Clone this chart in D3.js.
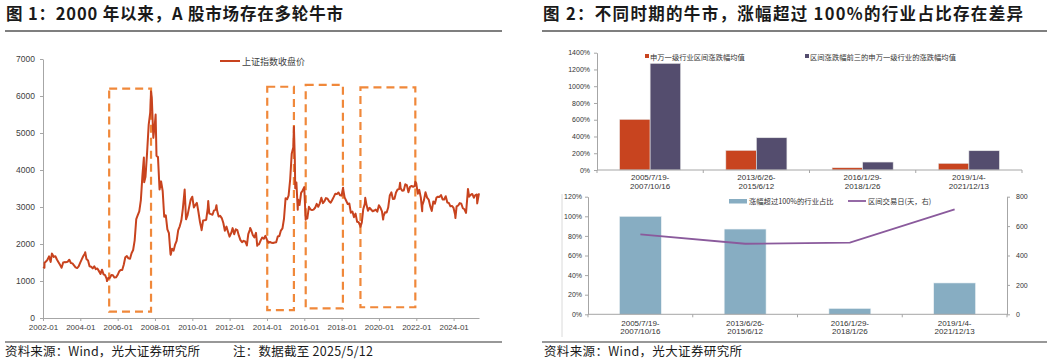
<!DOCTYPE html>
<html>
<head>
<meta charset="utf-8">
<script src="https://cdn.jsdelivr.net/npm/d3@7"></script>
<style>
  body { margin: 0; background: #fff; }
  text { font-family: "Liberation Sans", "Noto Sans CJK SC", sans-serif; }
  .cjk { font-family: "Noto Sans CJK SC", sans-serif; }
</style>
</head>
<body>
<svg id="chart" width="1054" height="364"></svg>
<script>
// ---- data: 图1 上证指数 ----
// monthly closes, 2002-01 .. 2025-04 (one value per month)
const monthStart = new Date(2002, 0, 1);
const monthlyClose = [
  1491, 1524, 1580, 1667, 1515, 1732, 1651, 1670, 1581, 1507, 1436, 1357, // 2002
  1499, 1511, 1510, 1521, 1576, 1487, 1476, 1421, 1367, 1349, 1397, 1497, // 2003
  1590, 1675, 1742, 1595, 1555, 1399, 1386, 1342, 1396, 1320, 1340, 1267, // 2004
  1191, 1306, 1181, 1159, 1060, 1080, 1083, 1162, 1155, 1092, 1099, 1161, // 2005
  1258, 1299, 1298, 1440, 1641, 1672, 1612, 1601, 1752, 1837, 2099, 2675, // 2006
  2786, 2881, 3183, 3841, 4109, 3820, 4471, 5218, 5552, 5955, 4871, 5262, // 2007
  4383, 4348, 3473, 3693, 3433, 2736, 2775, 2397, 2293, 1729, 1871, 1821, // 2008
  1991, 2082, 2373, 2477, 2633, 2959, 3412, 2667, 2779, 2996, 3195, 3277, // 2009
  2989, 3052, 3110, 2871, 2592, 2398, 2638, 2639, 2656, 2979, 2820, 2808, // 2010
  2791, 2905, 2928, 2911, 2743, 2762, 2701, 2568, 2359, 2469, 2333, 2199, // 2011
  2292, 2429, 2263, 2397, 2373, 2225, 2103, 2048, 2086, 2069, 1980, 2269, // 2012
  2385, 2366, 2237, 2178, 2301, 1979, 1994, 2098, 2175, 2141, 2220, 2116, // 2013
  2033, 2056, 2033, 2026, 2039, 2048, 2202, 2217, 2364, 2420, 2683, 3235, // 2014
  3210, 3310, 3748, 4442, 4612, 4277, 3664, 3206, 3053, 3383, 3446, 3539, // 2015
  2738, 2688, 3004, 2938, 2917, 2930, 2979, 3085, 3005, 3100, 3250, 3104, // 2016
  3159, 3242, 3223, 3155, 3117, 3192, 3273, 3361, 3349, 3393, 3317, 3307, // 2017
  3481, 3259, 3169, 3082, 3095, 2847, 2876, 2725, 2821, 2603, 2588, 2494, // 2018
  2585, 2941, 3091, 3078, 2899, 2979, 2933, 2886, 2905, 2929, 2872, 3050, // 2019
  2977, 2880, 2750, 2860, 2852, 2985, 3310, 3396, 3218, 3225, 3392, 3473, // 2020
  3483, 3509, 3442, 3447, 3615, 3591, 3397, 3544, 3568, 3547, 3564, 3640, // 2021
  3361, 3463, 3252, 3047, 3186, 3399, 3253, 3202, 3024, 2893, 3151, 3089, // 2022
  3256, 3280, 3273, 3323, 3205, 3202, 3291, 3120, 3110, 3018, 3030, 2975, // 2023
  2789, 3015, 3041, 3105, 3087, 2967, 2939, 2842, 3336, 3280, 3326, 3352, // 2024
  3251, 3321, 3336, 3279                                                  // 2025
];
// intra-month highs / lows
const swingDates = [
  "2002-01-04", "2002-01-29", "2002-06-24", "2004-04-06", "2005-06-06",
  "2007-05-29", "2007-06-04", "2007-10-16", "2008-01-14", "2008-11-04",
  "2009-08-04", "2010-07-02", "2010-11-08", "2011-04-18", "2012-12-03",
  "2013-02-06", "2013-06-25", "2015-06-12", "2015-07-08", "2015-08-26",
  "2016-01-28", "2018-01-29", "2019-01-03", "2019-04-08", "2020-03-23",
  "2021-02-18", "2021-12-13", "2022-04-26", "2024-02-05", "2024-10-08",
  "2025-04-07", "2025-05-12"
];
const swingValues = [
  1380, 1358, 1741, 1777, 998,
  4335, 3670, 6124, 5497, 1706,
  3471, 2373, 3159, 3050, 1959,
  2434, 1951, 5166, 3507, 2927,
  2656, 3523, 2464, 3247, 2660,
  3655, 3681, 2886, 2702, 3489,
  3096, 3369
];
// dashed bull-market boxes
const boxStart = ["2005-07-19", "2014-01-06", "2016-01-29", "2019-01-04"];
const boxEnd = ["2007-10-16", "2015-06-12", "2018-01-26", "2021-12-13"];
const boxTop = [6200, 6250, 6300, 6235];
const boxBottom = [170, 215, 260, 290];

// ---- data: 图2 ----
const periods = ["2005/7/19-2007/10/16", "2013/6/26-2015/6/12", "2016/1/29-2018/1/26", "2019/1/4-2021/12/13"];
const avgGain = [605, 235, 27, 80];        // 申万一级行业区间涨跌幅均值 (%)
const top3Gain = [1273, 385, 95, 230];     // 区间涨跌幅前三的申万一级行业的涨跌幅均值 (%)
const shareOver100 = [100, 87, 6, 32];     // 涨幅超过100%的行业占比 (%)
const tradingDays = [544, 480, 487, 714];  // 区间交易日(天)

const svg = d3.select('#chart');
const parse = d3.timeParse('%Y-%m-%d');

// ---- headers & footers ----
function header(x, x2, label, len) {
  svg.append('text').attr('class', 'cjk')
    .attr('x', x).attr('y', 20)
    .attr('font-size', 16.5).attr('font-weight', 'bold').attr('fill', '#1a1a1a')
    .attr('textLength', len).attr('lengthAdjust', 'spacing')
    .text(label);
  svg.append('line').attr('x1', x - 1).attr('x2', x2).attr('y1', 31).attr('y2', 31)
    .attr('stroke', '#555').attr('stroke-width', 1.5);
  svg.append('line').attr('x1', x - 1).attr('x2', x2).attr('y1', 342).attr('y2', 342)
    .attr('stroke', '#333').attr('stroke-width', 1.2);
}
header(6, 502, '图 1：2000 年以来，A 股市场存在多轮牛市', 337);
header(543, 1047, '图 2：不同时期的牛市，涨幅超过 100%的行业占比存在差异', 480);

function footer(x, label, len) {
  svg.append('text').attr('class', 'cjk')
    .attr('x', x).attr('y', 356).attr('font-size', 12.5).attr('fill', '#1a1a1a')
    .attr('textLength', len).attr('lengthAdjust', 'spacing')
    .text(label);
}
footer(5, '资料来源：Wind，光大证券研究所', 195);
footer(233, '注：数据截至 2025/5/12', 140);
footer(544, '资料来源：Wind，光大证券研究所', 198);

function styleAxis(g, size, color) {
  g.selectAll('.domain').attr('stroke', '#a6a6a6');
  g.selectAll('.tick line').attr('stroke', '#a6a6a6');
  g.selectAll('.tick text').attr('font-size', size).attr('fill', color)
    .attr('font-family', '"Liberation Sans", sans-serif');
}

// ---- 图1 line chart ----
const series = monthlyClose.map((v, i) => ({
  date: d3.timeDay.offset(d3.timeMonth.offset(monthStart, i + 1), -1), value: v
}));
swingDates.forEach((d, i) => series.push({date: parse(d), value: swingValues[i]}));
series.sort((a, b) => a.date - b.date);

const x1 = d3.scaleTime().domain([new Date(2002, 0, 1), new Date(2025, 4, 12)]).range([43, 479]);
const y1 = d3.scaleLinear().domain([0, 7000]).range([318, 59]);

svg.append('g').attr('transform', 'translate(0,318)')
  .call(d3.axisBottom(x1).ticks(d3.timeYear.every(2)).tickFormat(d3.timeFormat('%Y-%m'))
    .tickSize(3).tickSizeOuter(0).tickPadding(3))
  .call(g => styleAxis(g, 8, '#404040'));
svg.append('g').attr('transform', 'translate(43,0)')
  .call(d3.axisLeft(y1).ticks(7).tickFormat(d3.format('d')).tickSize(3).tickSizeOuter(0).tickPadding(5))
  .call(g => styleAxis(g, 8.5, '#404040'));

// dashed boxes
boxStart.forEach((s, i) => {
  const xa = x1(parse(s)), xb = x1(parse(boxEnd[i]));
  svg.append('rect')
    .attr('x', xa).attr('y', y1(boxTop[i]))
    .attr('width', xb - xa).attr('height', y1(boxBottom[i]) - y1(boxTop[i]))
    .attr('fill', 'none').attr('stroke', '#f0883a').attr('stroke-width', 2.2)
    .attr('stroke-dasharray', '8,5');
});

const line1 = d3.line().x(d => x1(d.date)).y(d => y1(d.value));
svg.append('path').datum(series)
  .attr('d', line1).attr('fill', 'none')
  .attr('stroke', '#c8431e').attr('stroke-width', 2).attr('stroke-linejoin', 'round');

// legend
svg.append('line').attr('x1', 220).attr('x2', 240).attr('y1', 61).attr('y2', 61)
  .attr('stroke', '#c8431e').attr('stroke-width', 2);
svg.append('text').attr('class', 'cjk').attr('x', 242).attr('y', 64.5)
  .attr('font-size', 9).attr('fill', '#404040').text('上证指数收盘价');

// ---- 图2 上: grouped bars ----
const barColors = ['#c8441f', '#544d6e'];
const x2 = d3.scaleBand().domain(periods).range([597, 1022]).paddingInner(0.425).paddingOuter(0.2125);
const xs = d3.scaleBand().domain([0, 1]).range([0, x2.bandwidth()]);
const y2 = d3.scaleLinear().domain([0, 1400]).range([170, 52.7]);

svg.append('g').attr('transform', 'translate(597,0)')
  .call(d3.axisLeft(y2).tickValues(d3.range(0, 1401, 200)).tickFormat(d => d + '%')
    .tickSize(3).tickSizeOuter(0).tickPadding(4))
  .call(g => styleAxis(g, 7, '#333'));

function categoryAxis(xs_, yBase, lineY) {
  const [r0] = xs_.range();
  svg.append('line').attr('x1', r0).attr('x2', xs_.range()[1]).attr('y1', yBase).attr('y2', yBase)
    .attr('stroke', '#a6a6a6');
  d3.range(periods.length + 1).forEach(k => {
    const bx = r0 + k * xs_.step();
    svg.append('line').attr('x1', bx).attr('x2', bx).attr('y1', yBase).attr('y2', yBase + 3)
      .attr('stroke', '#a6a6a6');
  });
  periods.forEach(p => {
    const cx = xs_(p) + xs_.bandwidth() / 2;
    const cut = p.indexOf('-') + 1;
    const t = svg.append('text').attr('text-anchor', 'middle').attr('font-size', 8).attr('fill', '#333')
      .attr('font-family', '"Liberation Sans", sans-serif');
    t.append('tspan').attr('x', cx).attr('y', lineY).text(p.slice(0, cut));
    t.append('tspan').attr('x', cx).attr('y', lineY + 8.7).text(p.slice(cut));
  });
}

[avgGain, top3Gain].forEach((vals, s) => {
  svg.append('g').selectAll('rect').data(vals).join('rect')
    .attr('x', (d, i) => x2(periods[i]) + xs(s))
    .attr('y', d => y2(d))
    .attr('width', xs.bandwidth())
    .attr('height', d => y2(0) - y2(d))
    .attr('fill', barColors[s]).attr('stroke', '#e8e8e8').attr('stroke-width', 0.6);
});
categoryAxis(x2, 170, 180);

const leg2 = [
  {x: 645, label: '申万一级行业区间涨跌幅均值'},
  {x: 805, label: '区间涨跌幅前三的申万一级行业的涨跌幅均值'}
];
leg2.forEach((l, i) => {
  svg.append('rect').attr('x', l.x).attr('y', 54).attr('width', 4).attr('height', 4).attr('fill', barColors[i]);
  svg.append('text').attr('class', 'cjk').attr('x', l.x + 5).attr('y', 59.5)
    .attr('font-size', 7.3).attr('fill', '#333').text(l.label);
});

// ---- 图2 下: bars + line on right axis ----
svg.append('line').attr('x1', 562).attr('x2', 562).attr('y1', 194).attr('y2', 337)
  .attr('stroke', '#d0d0d0').attr('stroke-width', 0.8);

const x3 = d3.scaleBand().domain(periods).range([588, 1007]).paddingInner(0.6).paddingOuter(0.3);
const yL = d3.scaleLinear().domain([0, 120]).range([314.3, 196.7]);
const yR = d3.scaleLinear().domain([0, 800]).range([314.3, 196.7]);

svg.append('g').attr('transform', 'translate(588,0)')
  .call(d3.axisLeft(yL).tickValues(d3.range(0, 121, 20)).tickFormat(d => d + '%')
    .tickSize(3).tickSizeOuter(0).tickPadding(3))
  .call(g => styleAxis(g, 7, '#333'));
svg.append('g').attr('transform', 'translate(1007,0)')
  .call(d3.axisRight(yR).tickValues(d3.range(0, 801, 200))
    .tickSize(3).tickSizeOuter(0).tickPadding(6))
  .call(g => styleAxis(g, 7, '#333'));

svg.append('g').selectAll('rect').data(shareOver100).join('rect')
  .attr('x', (d, i) => x3(periods[i]))
  .attr('y', d => yL(d))
  .attr('width', x3.bandwidth())
  .attr('height', d => yL(0) - yL(d))
  .attr('fill', '#87adc2').attr('stroke', '#eef3f6').attr('stroke-width', 0.6);
categoryAxis(x3, 314.3, 325.5);

const line3 = d3.line().x((d, i) => x3(periods[i]) + x3.bandwidth() / 2).y(d => yR(d));
svg.append('path').datum(tradingDays).attr('d', line3).attr('fill', 'none')
  .attr('stroke', '#8a5a9c').attr('stroke-width', 1.8);

svg.append('rect').attr('x', 729).attr('y', 199).attr('width', 18).attr('height', 4.5).attr('fill', '#87adc2');
svg.append('text').attr('class', 'cjk').attr('x', 749).attr('y', 203.5)
  .attr('font-size', 7.3).attr('fill', '#333').text('涨幅超过100%的行业占比');
svg.append('line').attr('x1', 848).attr('x2', 866).attr('y1', 201).attr('y2', 201)
  .attr('stroke', '#8a5a9c').attr('stroke-width', 1.8);
svg.append('text').attr('class', 'cjk').attr('x', 868).attr('y', 203.5)
  .attr('font-size', 7.3).attr('fill', '#333').text('区间交易日(天，右)');
</script>
</body>
</html>
